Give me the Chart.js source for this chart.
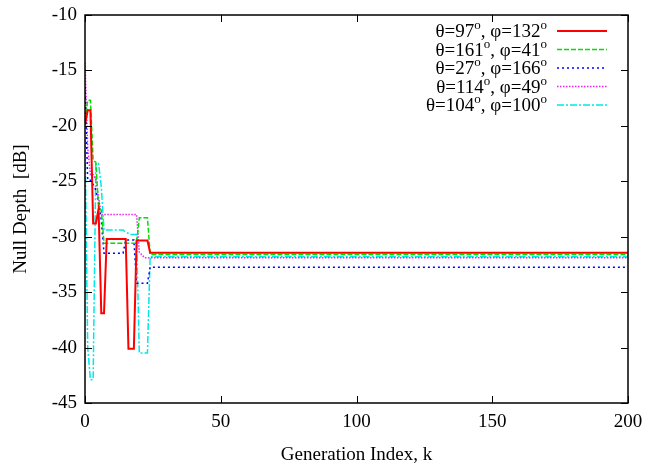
<!DOCTYPE html>
<html>
<head>
<meta charset="utf-8">
<script src="https://cdn.jsdelivr.net/npm/chart.js@4/dist/chart.umd.min.js"></script>
<style>
    html, body { margin: 0; padding: 0; background: #fff; }
    #wrap { width: 648px; height: 465px; }
</style>
</head>
<body>
<div id="wrap"><canvas id="nullChart" width="648" height="465"></canvas></div>
<script>
"use strict";

// generation index values and null depth (dB), one pair per series
var redK = [0, 1, 2, 3, 4, 5, 6, 7, 8, 15, 16, 18, 19, 23, 24, 200];
var redDb = [-19.9, -18.6, -18.6, -28.8, -28.8, -27.5, -36.9, -36.9, -30.2, -30.2, -40.1, -40.1, -30.35, -30.35, -31.45, -31.45];

var greenK = [0, 1, 2, 3, 4, 5, 6, 7, 19, 20, 23, 24, 200];
var greenDb = [-19.5, -17.7, -17.7, -23.1, -23.3, -27.4, -27.6, -30.6, -30.6, -28.3, -28.3, -31.6, -31.6];

var blueK = [0, 1, 2, 3, 4, 5, 6, 7, 14, 15, 18, 19, 23, 24, 200];
var blueDb = [-16.5, -24.9, -24.9, -25.3, -25.8, -27.0, -28.5, -31.5, -31.5, -30.3, -30.3, -34.2, -34.2, -32.75, -32.75];

var pinkK = [0, 1, 2, 3, 4, 5, 6, 7, 19, 20, 22, 200];
var pinkDb = [-14.3, -22.0, -24.4, -24.4, -24.8, -26.5, -28.0, -28.0, -28.0, -31.4, -31.9, -31.9];

var cyanK = [0, 1, 2, 3, 4, 5, 6, 7, 14, 15, 17, 19, 20, 23, 24, 200];
var cyanDb = [-21.0, -40.0, -42.9, -42.9, -23.4, -23.4, -25.5, -29.4, -29.4, -29.6, -29.8, -29.8, -40.5, -40.5, -31.8, -31.8];

var seriesNames = [
    ["97", "132"],
    ["161", "41"],
    ["27", "166"],
    ["114", "49"],
    ["104", "100"]
];

var xTicks = [0, 50, 100, 150, 200];
var yTicks = [-45, -40, -35, -30, -25, -20, -15, -10];

var serif = "'Liberation Serif', 'Times New Roman', serif";

function toPoints(ks, dbs)
{
    return ks.map(function(k, i)
    {
        return { x: k, y: dbs[i] };
    });
}

var styles = [
    { color: "#ff0000", width: 2, dash: [] },
    { color: "#00e000", width: 1.5, dash: [5, 2] },
    { color: "#0000ff", width: 1.5, dash: [2, 3] },
    { color: "#f020f0", width: 1.5, dash: [1.5, 1.5] },
    { color: "#00e8e8", width: 1.5, dash: [7, 2, 2, 2] }
];

var allK = [redK, greenK, blueK, pinkK, cyanK];
var allDb = [redDb, greenDb, blueDb, pinkDb, cyanDb];

var datasets = allK.map(function(ks, i)
{
    return {
        label: "theta=" + seriesNames[i][0] + ", phi=" + seriesNames[i][1],
        data: toPoints(ks, allDb[i]),
        borderColor: styles[i].color,
        borderWidth: styles[i].width,
        borderDash: styles[i].dash,
        pointRadius: 0,
        tension: 0,
        fill: false
    };
});

// gnuplot style frame with inward ticks on all four sides
var framePlugin = {
    id: "frame",
    afterDatasetsDraw: function(chart)
    {
        var ctx = chart.ctx;
        var area = chart.chartArea;
        var xs = chart.scales.x;
        var ys = chart.scales.y;
        var len = 7;
        ctx.save();
        ctx.strokeStyle = "#000";
        ctx.lineWidth = 1.5;
        ctx.setLineDash([]);
        ctx.strokeRect(area.left, area.top, area.right - area.left, area.bottom - area.top);
        ctx.lineWidth = 1;
        ctx.beginPath();
        xTicks.forEach(function(v)
        {
            var px = Math.round(xs.getPixelForValue(v)) + 0.5;
            ctx.moveTo(px, area.bottom);
            ctx.lineTo(px, area.bottom - len);
            ctx.moveTo(px, area.top);
            ctx.lineTo(px, area.top + len);
        });
        yTicks.forEach(function(v)
        {
            var py = Math.round(ys.getPixelForValue(v)) + 0.5;
            ctx.moveTo(area.left, py);
            ctx.lineTo(area.left + len, py);
            ctx.moveTo(area.right, py);
            ctx.lineTo(area.right - len, py);
        });
        ctx.stroke();
        ctx.restore();
    }
};

// key in the upper right: text right-aligned, sample line to its right
var keyPlugin = {
    id: "key",
    afterDraw: function(chart)
    {
        var ctx = chart.ctx;
        var textRight = 547;
        var sampleLeft = 557;
        var sampleRight = 607;
        var rowY = [31, 49.5, 68, 86.5, 105];
        var bigFont = "19px " + serif;
        var supFont = "13px " + serif;
        ctx.save();
        ctx.textBaseline = "alphabetic";
        ctx.fillStyle = "#000";
        seriesNames.forEach(function(names, i)
        {
            var parts = [
                { t: "\u03b8=" + names[0], sup: false },
                { t: "o", sup: true },
                { t: ", \u03c6=" + names[1], sup: false },
                { t: "o", sup: true }
            ];
            var total = 0;
            parts.forEach(function(p)
            {
                ctx.font = p.sup ? supFont : bigFont;
                p.w = ctx.measureText(p.t).width;
                total += p.w;
            });
            var x = textRight - total;
            var base = rowY[i] + 6;
            parts.forEach(function(p)
            {
                ctx.font = p.sup ? supFont : bigFont;
                ctx.textAlign = "left";
                ctx.fillText(p.t, x, p.sup ? base - 8 : base);
                x += p.w;
            });
            ctx.strokeStyle = styles[i].color;
            ctx.lineWidth = styles[i].width;
            ctx.setLineDash(styles[i].dash);
            ctx.beginPath();
            ctx.moveTo(sampleLeft, rowY[i]);
            ctx.lineTo(sampleRight, rowY[i]);
            ctx.stroke();
        });
        ctx.restore();
    }
};

var ctx = document.getElementById("nullChart").getContext("2d");
var chart = new Chart(ctx,
{
    type: "line",
    data: { datasets: datasets },
    options: {
        responsive: false,
        animation: false,
        layout: { padding: { left: 0, top: 15, right: 20, bottom: 0 } },
        plugins: {
            legend: { display: false },
            tooltip: { enabled: false }
        },
        scales: {
            x: {
                type: "linear",
                min: 0,
                max: 200,
                afterBuildTicks: function(scale)
                {
                    scale.ticks = xTicks.map(function(v) { return { value: v }; });
                },
                afterFit: function(scale)
                {
                    scale.height = 62;
                    scale.paddingLeft = 0;
                    scale.paddingRight = 0;
                },
                grid: { display: false, drawTicks: false },
                border: { display: false },
                ticks: { color: "#000", font: { family: serif, size: 19 }, padding: 8, maxRotation: 0 },
                title: {
                    display: true,
                    text: "Generation Index, k",
                    color: "#000",
                    font: { family: serif, size: 19, lineHeight: 1 },
                    padding: { top: 0, bottom: 0 }
                }
            },
            y: {
                type: "linear",
                min: -45,
                max: -10,
                afterBuildTicks: function(scale)
                {
                    scale.ticks = yTicks.map(function(v) { return { value: v }; });
                },
                afterFit: function(scale)
                {
                    scale.width = 85;
                    scale.paddingTop = 0;
                    scale.paddingBottom = 0;
                },
                grid: { display: false, drawTicks: false },
                border: { display: false },
                ticks: { color: "#000", font: { family: serif, size: 19 }, padding: 8 },
                title: {
                    display: true,
                    text: "Null Depth  [dB]",
                    color: "#000",
                    font: { family: serif, size: 19 },
                    padding: { top: 10, bottom: 0 }
                }
            }
        }
    },
    plugins: [framePlugin, keyPlugin]
});
</script>
</body>
</html>
